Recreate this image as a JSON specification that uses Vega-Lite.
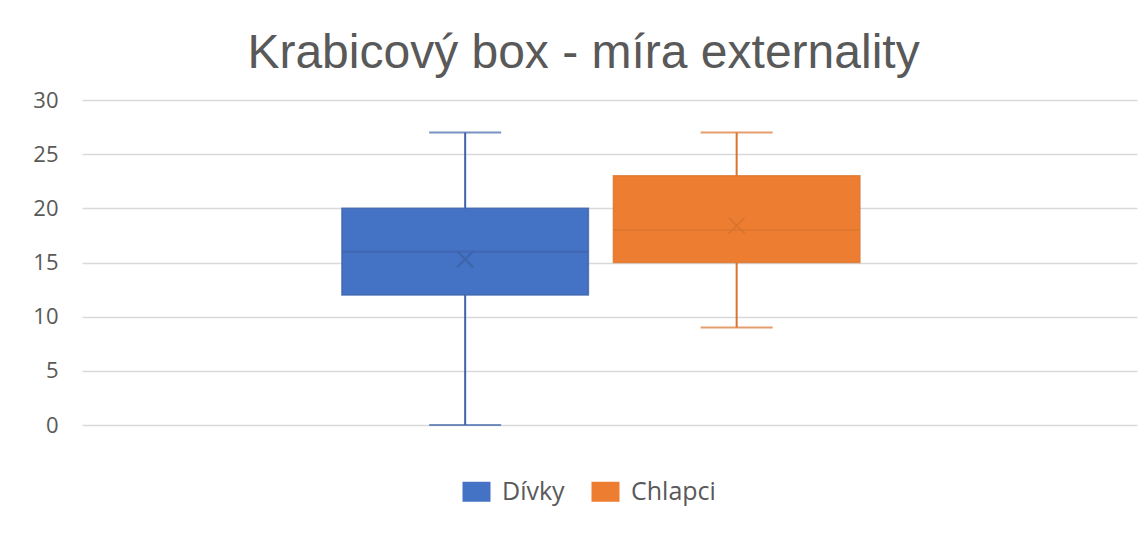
{
  "$schema": "https://vega.github.io/schema/vega-lite/v6.json",
  "width": 1055,
  "height": 325,
  "autosize": {"type": "none"},
  "padding": {"left": 82, "top": 100, "right": 9, "bottom": 112},
  "background": "white",
  "config": {"view": {"stroke": null}},
  "title": {
    "text": "Krabicový box - míra externality",
    "font": "Liberation Sans",
    "fontSize": 48,
    "fontWeight": "normal",
    "color": "#595959",
    "anchor": "middle",
    "dx": -26,
    "offset": 11
  },
  "data": {
    "values": [
      {"series": "Dívky", "min": 0, "q1": 12, "median": 16, "q3": 20, "max": 27, "mean": 15.3},
      {"series": "Chlapci", "min": 9, "q1": 15, "median": 18, "q3": 23, "max": 27, "mean": 18.4}
    ]
  },
  "encoding": {
    "x": {
      "field": "series",
      "type": "nominal",
      "sort": ["Dívky", "Chlapci"],
      "scale": {"paddingInner": 0.092, "paddingOuter": 0.989, "align": 0.484},
      "axis": null
    }
  },
  "resolve": {"legend": {"color": "independent", "stroke": "independent", "fill": "independent"}},
  "layer": [
    {
      "mark": {"type": "rule", "strokeWidth": 2},
      "encoding": {
        "y": {
          "field": "min",
          "type": "quantitative",
          "scale": {"domain": [0, 30], "nice": false},
          "axis": {
            "title": null,
            "values": [0, 5, 10, 15, 20, 25, 30],
            "labelFont": "Open Sans",
            "labelFontSize": 22,
            "labelColor": "#595959",
            "labelPadding": 24,
            "domain": false,
            "ticks": false,
            "grid": true,
            "gridColor": "#D9D9D9",
            "gridWidth": 1.5
          }
        },
        "y2": {"field": "max"},
        "stroke": {
          "field": "series",
          "type": "nominal",
          "scale": {"domain": ["Dívky", "Chlapci"], "range": ["#3F64AA", "#D9752F"]},
          "legend": null
        }
      }
    },
    {
      "mark": {"type": "bar"},
      "encoding": {
        "y": {"field": "q1", "type": "quantitative"},
        "y2": {"field": "q3"},
        "color": {
          "field": "series",
          "type": "nominal",
          "scale": {"domain": ["Dívky", "Chlapci"], "range": ["#4472C4", "#ED7D31"]},
          "legend": {
            "orient": "none",
            "legendX": 382,
            "legendY": 379,
            "direction": "horizontal",
            "title": null,
            "symbolType": "M-1.4,-1L1.4,-1L1.4,1L-1.4,1Z",
            "symbolSize": 400,
            "symbolStrokeWidth": 0,
            "labelFont": "Open Sans",
            "labelFontSize": 25,
            "labelColor": "#595959",
            "labelOffset": 13,
            "columnPadding": 26,
            "padding": 0
          }
        }
      }
    },
    {
      "mark": {"type": "bar", "filled": false, "strokeWidth": 1.5, "strokeOpacity": 0.8},
      "encoding": {
        "y": {"field": "q1", "type": "quantitative"},
        "y2": {"field": "q3"},
        "stroke": {"field": "series", "type": "nominal", "legend": null}
      }
    },
    {
      "mark": {"type": "tick", "size": 72, "thickness": 2},
      "encoding": {
        "y": {"field": "min", "type": "quantitative"},
        "fill": {
          "field": "series",
          "type": "nominal",
          "scale": {"domain": ["Dívky", "Chlapci"], "range": ["#3F64AA", "#D9752F"]},
          "legend": null
        }
      }
    },
    {
      "mark": {"type": "tick", "size": 72, "thickness": 2},
      "encoding": {
        "y": {"field": "max", "type": "quantitative"},
        "fill": {"field": "series", "type": "nominal", "legend": null}
      }
    },
    {
      "mark": {"type": "tick", "size": 246, "thickness": 2},
      "encoding": {
        "y": {"field": "median", "type": "quantitative"},
        "fill": {"field": "series", "type": "nominal", "legend": null}
      }
    },
    {
      "mark": {"type": "point", "shape": "M-1,-1L1,1M-1,1L1,-1", "filled": false, "size": 256, "strokeWidth": 2, "opacity": 1},
      "encoding": {
        "y": {"field": "mean", "type": "quantitative"},
        "stroke": {"field": "series", "type": "nominal", "legend": null}
      }
    }
  ]
}
